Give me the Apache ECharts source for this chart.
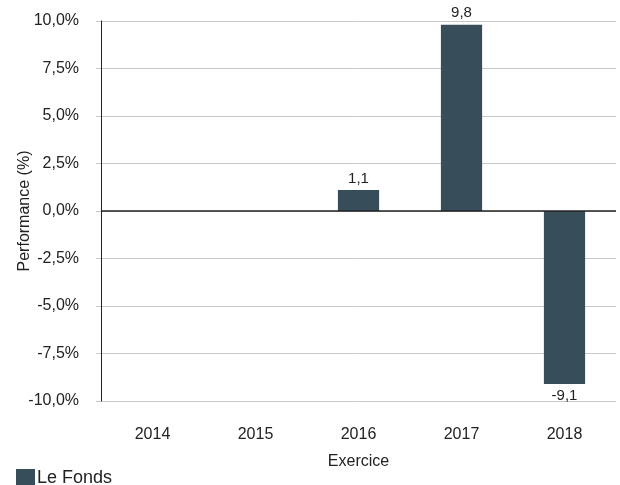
<!DOCTYPE html>
<html><head><meta charset="utf-8">
<script src="https://cdn.jsdelivr.net/npm/echarts@6/dist/echarts.min.js"></script>
<style>html,body{margin:0;padding:0;background:#fff}#c{width:620px;height:485px}</style>
</head><body><div id="c"></div>
<script>
var categories = ['2014','2015','2016','2017','2018'];
var fondsValues = [null, null, 1.1, 9.8, -9.1];
var seriesName = 'Le Fonds';
var fmt = function(v){ return v.toFixed(1).replace('.', ','); };
var font = 'Liberation Sans, Arial, sans-serif';
var txt = '#222';
var chart = echarts.init(document.getElementById('c'), null, {renderer:'canvas'});
var barData = fondsValues.map(function(v){
  if (v === null) return null;
  return v < 0 ? {value:v, label:{position:'bottom'}} : v;
});
chart.setOption({
  animation:false,
  textStyle:{fontFamily:font},
  grid:{left:101, right:4, top:21, bottom:84, containLabel:false, outerBoundsMode:'none'},
  legend:{data:[seriesName], left:16, top:469, padding:0, itemWidth:19, itemHeight:19, itemGap:0, icon:'rect',
    textStyle:{fontFamily:font, fontSize:18, color:txt, padding:[0,0,0,-3]}},
  xAxis:{type:'category', data:categories, name:'Exercice', nameLocation:'middle', nameGap:53, nameMoveOverlap:false,
    nameTextStyle:{fontFamily:font, fontSize:16, color:txt},
    axisLine:{show:false, onZero:false}, axisTick:{show:false},
    axisLabel:{fontFamily:font, fontSize:16, color:txt, margin:26}},
  yAxis:{type:'value', min:-10, max:10, interval:2.5, name:'Performance (%)', nameLocation:'middle', nameGap:68, nameMoveOverlap:false,
    nameTextStyle:{fontFamily:font, fontSize:16, color:txt},
    axisLine:{show:true, lineStyle:{color:'#222', width:1}},
    axisTick:{show:true, length:5, lineStyle:{color:'#c8c8c8'}},
    splitLine:{lineStyle:{color:'#c8c8c8', width:1}},
    axisLabel:{fontFamily:font, fontSize:16, color:txt, margin:22, formatter:function(v){return fmt(v)+'%';}}},
  series:[{name:seriesName, type:'bar', data:barData, barWidth:'40%',
    itemStyle:{color:'#374e5a'},
    label:{show:true, fontFamily:font, fontSize:15, color:txt, distance:4, position:'top',
      formatter:function(p){return fmt(p.value);}},
    markLine:{silent:true, symbol:['none','none'], label:{show:false},
      lineStyle:{color:'#222', width:1.5, type:'solid'}, data:[{yAxis:0}]}
  }]
});
</script>
</body></html>
